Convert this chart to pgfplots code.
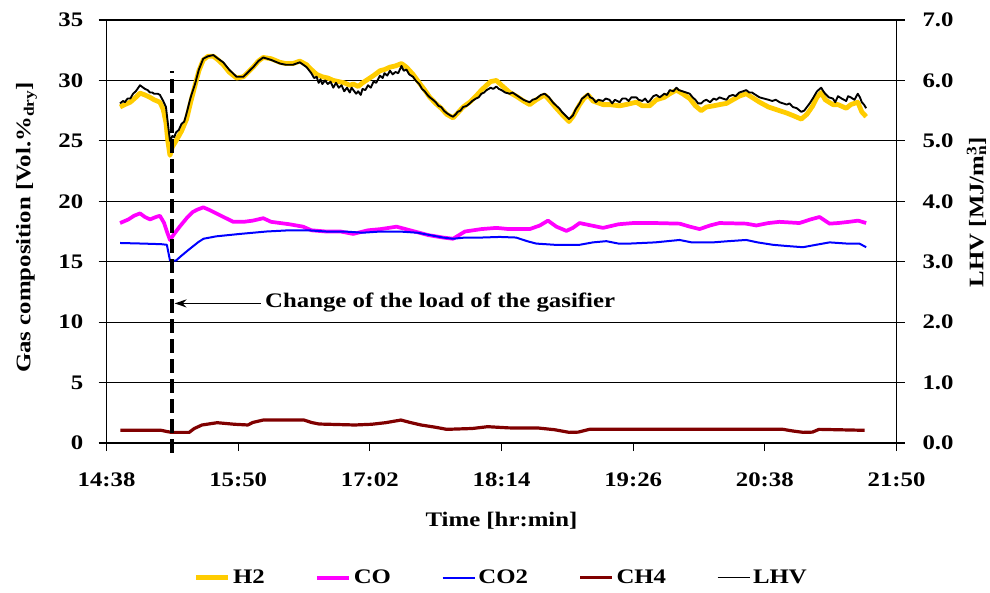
\documentclass[border=0pt]{standalone}
\usepackage{fontspec}
\setmainfont{Liberation Serif}[FakeStretch=1.2]
\usepackage{pgfplots}
\pgfplotsset{compat=1.18}
\usepackage{pgfplotstable}
\usetikzlibrary{arrows.meta}
\definecolor{cH}{HTML}{FFCC00}
\definecolor{cCO}{HTML}{FF00FF}
\definecolor{cCOt}{HTML}{0000FF}
\definecolor{cCH}{HTML}{800000}
\newcommand\ff{\fontsize{15.5}{18}\selectfont\bfseries}

% time in minutes after 14:38
\pgfplotstableread{
t v
7.4 27.8
10 28.0
13 28.2
16 28.6
18.3 28.95
21 28.8
23.8 28.6
26 28.4
29.2 28.2
31 27.6
32.5 26.5
33.5 25.0
34.7 23.8
36 24.5
38 25.0
41 25.8
43.8 26.8
46 28.2
48.4 29.6
50.5 30.8
52.9 31.7
55.5 32.0
58.4 32.0
61 31.7
63.8 31.3
67 30.7
71.1 30.2
74.8 30.3
77.5 30.7
80.2 31.1
83 31.6
85.7 31.9
90 31.8
94.8 31.5
98 31.4
102 31.4
105.7 31.6
109.4 31.3
112 30.9
114.9 30.5
118 30.3
121 30.2
124 30.0
127 29.9
130 29.8
133 29.6
135 29.7
137.6 29.5
140 29.8
143 30.1
146 30.4
149.5 30.8
152 30.9
155 31.1
158 31.2
161.3 31.4
164 31.1
167.6 30.5
171 29.8
174 29.2
176.8 28.6
180 28.1
183 27.7
186 27.2
189.5 26.9
192 27.3
195 27.8
198.6 28.2
202 28.7
205 29.2
207.8 29.6
210 29.9
213.2 30.0
216 29.6
220.5 29.0
224 28.7
228 28.3
231.4 28.0
235 28.4
239.6 28.8
242 28.4
246 27.7
249 27.2
252.9 26.6
255 27.0
258.7 28.0
261 28.5
263.3 28.8
266 28.3
271.5 28.0
275 28.0
280.6 27.9
284 28.0
289.7 28.2
293 27.9
297 27.9
300.7 28.4
305 28.6
308 28.9
311.6 29.2
315 28.9
318.9 28.5
322 27.9
325.2 27.5
328 27.8
332 27.9
335.2 28.0
339 28.1
342.5 28.4
346 28.7
349.8 28.9
353 28.6
357.1 28.2
362 27.8
368 27.5
372 27.3
375.3 27.1
379.9 26.8
383 27.2
386.2 27.9
388.5 28.6
390.8 29.0
393 28.4
397.2 28.0
400 28.0
404.5 27.7
407 28.0
410.8 28.2
413 27.4
415.4 27.0
}\hdata

\pgfplotstableread{
t v
7.4 18.2
12 18.5
15 18.8
18.3 19.0
21 18.7
23.8 18.5
27 18.7
29.2 18.8
31.5 18.2
33 17.5
34.7 16.8
37 17.3
40 17.9
43.8 18.6
47 19.1
49.5 19.3
52.9 19.5
56 19.3
60 19.0
64 18.7
69.3 18.3
75 18.3
80 18.4
85.7 18.6
90 18.3
95 18.2
100 18.1
107.5 17.9
112 17.6
120 17.5
128 17.5
134.9 17.3
143 17.6
150 17.7
158.6 17.9
166 17.6
176 17.2
184 17.0
189.5 16.9
196 17.5
205 17.7
213.2 17.8
220 17.7
231.4 17.7
237 18.0
241.4 18.4
246 17.9
251.5 17.55
255 17.8
258.7 18.2
265 18.0
271.5 17.8
280 18.1
287.9 18.2
300 18.2
313.4 18.15
319 17.9
324.3 17.7
330 18.0
335.2 18.2
349.8 18.15
355.3 18.0
362 18.2
368 18.3
378.9 18.2
385 18.5
389.9 18.7
395.4 18.15
400 18.2
406 18.3
411 18.4
415.4 18.2
}\codata

\pgfplotstableread{
t v
7.4 16.55
20 16.5
30 16.45
33 16.4
34.7 15.1
38 15.1
41 15.5
45 16.0
50 16.6
53 16.9
60 17.1
73 17.3
87.5 17.5
100 17.6
110 17.6
120 17.5
130 17.5
140 17.4
150 17.5
160 17.5
170 17.4
177 17.2
184 17.0
189.5 16.9
196 17.0
205 17.0
215 17.05
224 17.0
230 16.7
235 16.5
245 16.4
258.7 16.4
266 16.6
273.3 16.7
280 16.5
286 16.5
300 16.6
313.4 16.8
320 16.6
331.6 16.6
340 16.7
349.8 16.8
356 16.6
364.4 16.4
372 16.3
380.8 16.2
388 16.4
395.4 16.6
405 16.5
411.7 16.5
415.4 16.2
}\cotdata

\pgfplotstableread{
t v
7.6 1.05
29.8 1.05
33 0.95
35.5 0.88
45.2 0.88
48 1.2
52.2 1.49
60.5 1.68
70 1.55
77.3 1.49
80 1.7
85.7 1.9
108 1.9
112 1.7
116.3 1.57
135.8 1.49
145 1.55
152.6 1.68
161 1.9
166 1.7
172 1.49
180 1.3
186 1.13
200 1.2
208.4 1.35
220 1.25
236 1.24
245 1.1
253 0.88
258 0.9
264 1.13
303 1.13
370 1.13
375 1.0
381 0.88
386 0.9
389.6 1.13
414.6 1.05
}\chdata

% LHV in MJ/m3
\pgfplotstableread{
t v
7.4 5.62
9 5.66
10 5.64
11.5 5.70
13 5.70
14.5 5.78
16 5.82
18.3 5.92
21 5.86
22.5 5.84
23.8 5.80
25 5.80
26 5.78
28 5.78
29.2 5.76
31 5.66
32.5 5.56
33.5 5.30
34.7 5.00
36 5.08
37 5.06
38 5.14
39.5 5.18
41 5.28
42.5 5.32
43.8 5.46
46 5.72
48.4 5.94
50.5 6.18
52.9 6.36
55.5 6.40
58.4 6.42
61 6.36
63.8 6.30
67 6.18
71.1 6.06
74.8 6.06
77.5 6.14
80.2 6.22
83 6.32
85.7 6.38
90 6.34
94.8 6.28
98 6.26
102 6.26
105.7 6.30
109.4 6.22
112 6.12
113.5 6.04
114.9 6.06
116 5.96
117 6.02
118 5.94
119.5 6.00
121 5.94
122.5 5.98
124 5.88
125.5 5.96
127 5.88
128.5 5.92
130 5.82
131.5 5.88
133 5.80
134 5.88
135 5.84
136.5 5.78
137.6 5.82
139 5.76
140 5.86
141.5 5.84
143 5.92
144.5 5.88
146 5.98
147.5 5.96
149.5 6.08
151 6.04
152 6.12
153.5 6.08
155 6.16
156.5 6.10
158 6.14
159.5 6.12
161.3 6.24
162.5 6.16
164 6.18
165.5 6.10
167.6 6.06
169 6.00
171 5.94
172.5 5.86
174 5.82
175.5 5.76
176.8 5.72
178.5 5.68
180 5.64
181.5 5.58
183 5.56
184.5 5.50
186 5.46
188 5.42
189.5 5.40
191 5.44
192 5.48
193.5 5.50
195 5.56
197 5.58
198.6 5.62
200 5.66
202 5.70
203.5 5.72
205 5.78
206.5 5.80
207.8 5.84
209 5.86
210 5.88
211.5 5.86
213.2 5.90
214.5 5.86
216 5.84
218 5.80
220.5 5.78
222 5.80
224 5.76
226 5.72
228 5.68
229.5 5.66
231.4 5.64
233 5.68
235 5.70
237.5 5.76
239.6 5.78
242 5.72
244 5.64
246 5.58
247.5 5.54
249 5.48
251 5.42
252.9 5.36
255 5.42
256.5 5.52
258.7 5.62
260 5.70
261 5.72
263.3 5.78
264.5 5.72
266 5.70
267.5 5.64
269 5.68
271.5 5.66
273 5.70
275 5.68
276.5 5.62
278 5.68
280.6 5.64
282 5.70
284 5.70
285.5 5.66
287 5.72
289.7 5.72
291 5.68
293 5.66
294.5 5.70
296 5.64
297 5.66
299 5.74
300.7 5.76
302.5 5.72
305 5.78
306.5 5.76
308 5.84
310 5.82
311.6 5.88
313 5.84
315 5.82
317 5.80
318.9 5.78
320.5 5.72
322 5.68
323.5 5.62
325.2 5.62
326.5 5.66
328 5.68
330 5.64
332 5.70
333.5 5.68
335.2 5.72
337 5.70
339 5.68
340.5 5.74
342.5 5.76
344 5.74
346 5.80
348 5.82
349.8 5.84
351.5 5.80
353 5.80
355 5.76
357.1 5.72
359.5 5.70
362 5.68
364 5.66
366 5.68
368 5.64
370 5.62
372 5.60
373.5 5.62
375.3 5.56
377.5 5.54
379.9 5.48
381.5 5.50
383 5.56
384.5 5.62
386.2 5.70
388.5 5.82
390.8 5.88
392 5.82
393 5.78
395 5.72
397.2 5.70
398.5 5.64
400 5.74
402 5.70
404.5 5.66
405.5 5.74
407 5.72
409 5.68
410.8 5.78
412 5.72
413 5.64
414.2 5.60
415.4 5.54
}\lhvdata

\begin{document}
\begin{tikzpicture}
\useasboundingbox (-79.9pt,-112.5pt) rectangle (662.6pt,332.25pt);
\begin{axis}[
    scale only axis,
    width=592.5pt, height=317.25pt,
    xmin=0, xmax=432, ymin=0, ymax=35,
    xtick={0,72,144,216,288,360,432},
    xticklabels={14:38,15:50,17:02,18:14,19:26,20:38,21:50},
    ytick={0,5,...,35},
    xtick pos=bottom, ytick pos=left,
    tick align=outside, major tick length=6pt,
    tick style={black, line width=0.8pt},
    axis line style={black, line width=0.8pt},
    ymajorgrids, grid style={black, line width=0.8pt},
    tick label style={font=\ff},
    /pgf/number format/assume math mode=true,
    xticklabel style={yshift=-13pt},
    yticklabel style={xshift=-8pt},
    xlabel={Time [hr:min]},
    xlabel style={font=\ff, at={([yshift=-58pt]axis description cs:0.5,0)}, anchor=center},
    ylabel={Gas composition [Vol.\%\textsubscript{dry}]},
    ylabel style={font=\ff, at={([xshift=-60pt]axis description cs:0,0.51)}, anchor=center},
    legend columns=5,
    legend style={draw=none, fill=none, font=\ff, at={([yshift=-101pt]axis description cs:0.5,0)}, anchor=center,
        /tikz/every even column/.append style={column sep=36pt}},
    legend image code/.code={\draw[#1] (0pt,0pt) -- (24pt,0pt);},
]
\addplot[cH, line width=3.6pt, line join=round] table[x=t, y=v] {\hdata};
\addlegendentry{H2}
\addplot[cCO, line width=2.8pt, line join=round] table[x=t, y=v] {\codata};
\addlegendentry{CO}
\addplot[cCOt, line width=1.5pt, line join=round] table[x=t, y=v] {\cotdata};
\addlegendentry{CO2}
\addplot[cCH, line width=2.4pt, line join=round] table[x=t, y=v] {\chdata};
\addlegendentry{CH4}
\addlegendimage{black, line width=1.2pt}
\addlegendentry{LHV}
\end{axis}
\begin{axis}[
    scale only axis,
    width=592.5pt, height=317.25pt,
    xmin=0, xmax=432, ymin=0, ymax=7,
    axis x line=none,
    axis y line*=right,
    ytick={0,1,...,7},
    tick align=outside, major tick length=6pt,
    tick style={black, line width=0.8pt},
    axis line style={black, line width=0.8pt},
    tick label style={font=\ff},
    /pgf/number format/assume math mode=true,
    yticklabel style={xshift=10pt, /pgf/number format/.cd, fixed, fixed zerofill, precision=1},
    ylabel={LHV [MJ/m\rlap{\textsuperscript{3}}\textsubscript{n}]},
    ylabel style={font=\ff, at={([xshift=60pt]axis description cs:1,0.546)}, anchor=center},
    clip=false,
]
\addplot[black, line width=1.4pt, line join=round] table[x=t, y=v] {\lhvdata};
\draw[black, line width=3pt, dash pattern=on 10pt off 5pt] (axis cs:35.8,-0.16) -- (axis cs:35.8,6.16);
\draw[black, line width=1.3pt, -{Stealth[length=9pt, width=6pt]}] (axis cs:84.4,2.31) -- (axis cs:37.2,2.31);
\node[font=\ff, anchor=west, inner sep=0pt] at (axis cs:86.6,2.33) {Change of the load of the gasifier};
\end{axis}
\end{tikzpicture}
\end{document}
